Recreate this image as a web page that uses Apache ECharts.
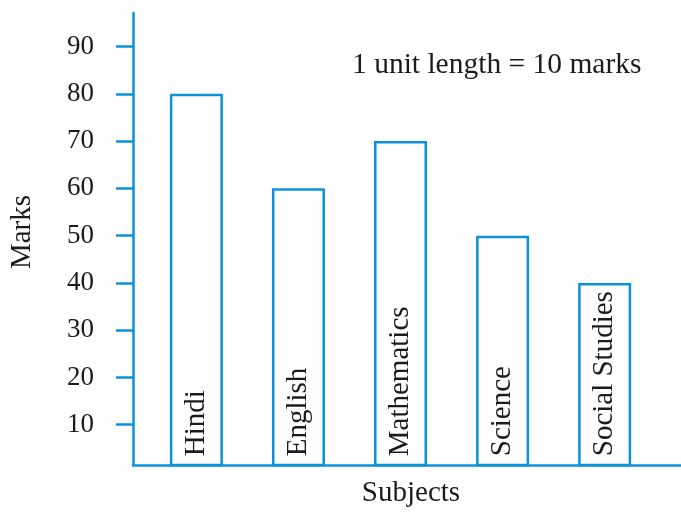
<!DOCTYPE html>
<html>
<head>
<meta charset="utf-8">
<script src="https://cdn.jsdelivr.net/npm/echarts@6/dist/echarts.min.js"></script>
<style>
html,body{margin:0;padding:0;background:#fff;}
#chart{width:681px;height:516px;}
</style>
</head>
<body>
<div id="chart"></div>
<script>
const subjects = ['Hindi', 'English', 'Mathematics', 'Science', 'Social Studies'];
const marks = [80, 60, 70, 50, 40];
const yTicks = [10, 20, 30, 40, 50, 60, 70, 80, 90];

const BLUE = '#0c92da';
const TEXT = '#1e1a1b';
const FONT = 'Liberation Serif';

const chart = echarts.init(document.getElementById('chart'));
chart.setOption({
  animation: false,
  backgroundColor: '#fff',
  grid: { left: 132, right: 0, top: 13, bottom: 51, containLabel: false },
  xAxis: {
    type: 'value',
    min: -0.621,
    max: 4.748,
    name: 'Subjects',
    nameLocation: 'middle',
    nameGap: 14,
    nameTextStyle: { fontFamily: FONT, fontSize: 29, color: TEXT, verticalAlign: 'top', padding: [0, 0, 0, 8] },
    axisLine: { show: true, onZero: false, lineStyle: { color: BLUE, width: 2.5 } },
    axisTick: { show: false },
    axisLabel: { show: false },
    splitLine: { show: false }
  },
  yAxis: {
    type: 'value',
    min: 1.48,
    max: 97.1,
    name: 'Marks',
    nameLocation: 'middle',
    nameRotate: 90,
    nameGap: 96,
    nameTextStyle: { fontFamily: FONT, fontSize: 29, color: TEXT, padding: [0, 0, 0, 14] },
    axisLine: { show: true, onZero: false, lineStyle: { color: BLUE, width: 2.5 } },
    axisTick: { show: true, length: 17, customValues: yTicks, lineStyle: { color: BLUE, width: 2.5 } },
    axisLabel: { show: true, customValues: yTicks, margin: 39, fontFamily: FONT, fontSize: 27, color: TEXT },
    splitLine: { show: false }
  },
  series: [{
    type: 'bar',
    barWidth: 53,
    clip: true,
    data: marks.map((v, i) => [i, v]),
    itemStyle: { color: '#ffffff', borderColor: BLUE, borderWidth: 2.5 },
    label: {
      show: true,
      position: 'insideBottom',
      rotate: 90,
      align: 'left',
      verticalAlign: 'middle',
      distance: 10,
      fontFamily: FONT,
      fontSize: 29,
      color: TEXT,
      formatter: p => subjects[p.dataIndex]
    }
  }],
  graphic: [{
    type: 'text',
    left: 352,
    top: 50,
    style: { text: '1 unit length = 10 marks', fontFamily: FONT, fontSize: 29.5, fill: TEXT }
  }]
});
</script>
</body>
</html>
